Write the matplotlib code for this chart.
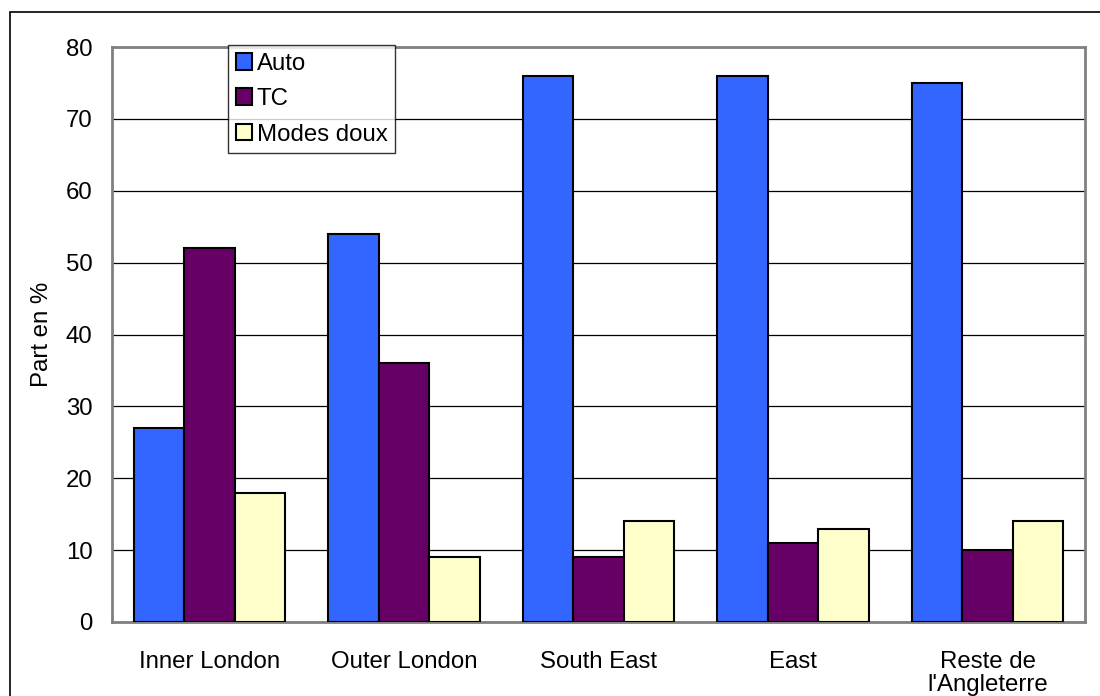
import matplotlib.pyplot as plt
import matplotlib.patches as patches
import numpy as np

plt.rcParams['font.family'] = ['Liberation Sans', 'DejaVu Sans']

categories = ['Inner London', 'Outer London', 'South East', 'East', "Reste de\nl'Angleterre"]
auto = [27, 54, 76, 76, 75]
tc = [52, 36, 9, 11, 10]
modes_doux = [18, 9, 14, 13, 14]

fig = plt.figure(figsize=(11, 6.96), dpi=100)
ax = fig.add_axes([112/1100, 1 - 622/696, (1085 - 112)/1100, (622 - 47)/696])

# outer frame
fig.patches.append(patches.Rectangle((10/1100, -0.1), 1.2, 1.1 - 12/696, transform=fig.transFigure,
                                     fill=False, edgecolor='black', linewidth=1.2))

x = np.arange(len(categories))
w = 0.259
ax.bar(x - w, auto, w, color='#3366ff', edgecolor='black', linewidth=1.5, label='Auto', zorder=3)
ax.bar(x, tc, w, color='#660066', edgecolor='black', linewidth=1.5, label='TC', zorder=3)
ax.bar(x + w, modes_doux, w, color='#ffffcc', edgecolor='black', linewidth=1.5, label='Modes doux', zorder=3)

fs = 17.3
ax.set_xlim(-0.5, len(categories) - 0.5)
ax.set_ylim(0, 80)
ax.set_yticks(range(0, 81, 10))
ax.set_xticks(x)
ax.set_xticklabels(categories, fontsize=fs, linespacing=1.05)
ax.tick_params(axis='y', labelsize=fs, length=0, pad=14)
ax.tick_params(axis='x', length=0, pad=21)
ax.yaxis.grid(True, color='black', linewidth=0.9, zorder=0)
ax.set_axisbelow(True)
for s in ax.spines.values():
    s.set_color('#808080')
    s.set_linewidth(2)

ax.set_ylabel('Part en %', fontsize=fs, labelpad=9)

leg = ax.legend(loc='upper left', bbox_to_anchor=(228/1100, 1 - 45/696), bbox_transform=fig.transFigure,
                fontsize=fs, frameon=True, fancybox=False, edgecolor='black', handlelength=0.68,
                handleheight=0.68, handletextpad=0.2, borderpad=0.32, labelspacing=0.56, borderaxespad=0)
leg.get_frame().set_linewidth(1)

plt.savefig('out.png', dpi=100)
